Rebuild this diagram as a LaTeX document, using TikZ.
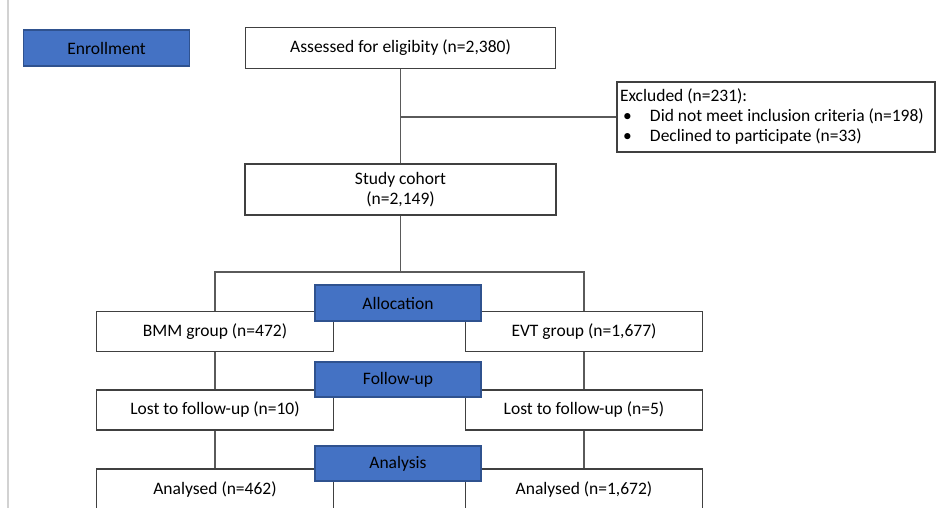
\documentclass[tikz,border=0pt]{standalone}
\usepackage{fontspec}
\setmainfont{Carlito}
\usepackage{tikz}
\usetikzlibrary{positioning,calc}
\definecolor{phaseblue}{HTML}{4472C4}
\definecolor{phaseedge}{HTML}{2F528F}
\definecolor{edgegray}{HTML}{404040}
\definecolor{linegray}{HTML}{5A5A5A}
\tikzset{
box/.style={
draw=edgegray,
line width=1.2pt,
fill=white,
inner sep=0pt,
align=center,
font=\fontsize{17.5}{20}\selectfont
},
groupbox/.style={
box,
minimum width=237pt,
minimum height=40pt
},
phase/.style={
draw=phaseedge,
line width=1.2pt,
fill=phaseblue,
minimum width=166pt,
minimum height=36pt,
inner sep=0pt,
font=\fontsize{17.5}{20}\selectfont
},
link/.style={
draw=linegray,
line width=1.1pt
},
pageline/.style={
draw=gray!35,
line width=1.2pt
}
}
\newcommand{\bulletline}[1]{\hspace*{3pt}\makebox[27pt][l]{\textbullet}#1}

\begin{document}
\begin{tikzpicture}[x=1pt,y=-1pt]
\path[use as bounding box,clip](0,0) rectangle (944,508);
\fill[white](0,0) rectangle (944,508);
\draw[pageline](8,0)--(8,508);

\node[box,minimum width=310pt,minimum height=41pt](assess) at (400.5,48){Assessed for eligibity (n=2,380)};
\node[box,minimum width=318pt,minimum height=70pt,inner xsep=3pt,text width=312pt,align=flush left](excl) at (776,117){Excluded (n=231):\\\bulletline{Did not meet inclusion criteria (n=198)}\\\bulletline{Declined to participate (n=33)}};
\node[box,minimum width=311pt,minimum height=51pt](cohort) at (400.5,189.5){Study cohort\\(n=2,149)};
\node[groupbox](bmm) at (215,331.5){BMM group (n=472)};
\node[groupbox](evt) at (584,331.5){EVT group (n=1,677)};
\node[groupbox](lostl) at (215,410){Lost to follow-up (n=10)};
\node[groupbox](lostr) at (584,410){Lost to follow-up (n=5)};
\node[groupbox,minimum height=41pt](anl) at (215,489.5){Analysed (n=462)};
\node[groupbox,minimum height=41pt](anr) at (584,489.5){Analysed (n=1,672)};

\node[phase](enroll) at (106.5,48){Enrollment};
\node[phase](alloc) at (398,303){Allocation};
\node[phase,minimum height=35pt](follow) at (398,379.5){Follow-up};
\node[phase,minimum height=35pt](analysis) at (398,463.5){Analysis};

\coordinate (split) at (400.5,272);
\draw[link](assess.south)--(cohort.north);
\draw[link](assess.south |- excl.west)--(excl.west);
\draw[link](cohort.south)--(split);
\draw[link](bmm.north) |- (split) -| (evt.north);
\foreach \x/\y in {bmm/lostl,lostl/anl,evt/lostr,lostr/anr}
\draw[link](\x.south)--(\y.north);
\end{tikzpicture}
\end{document}
